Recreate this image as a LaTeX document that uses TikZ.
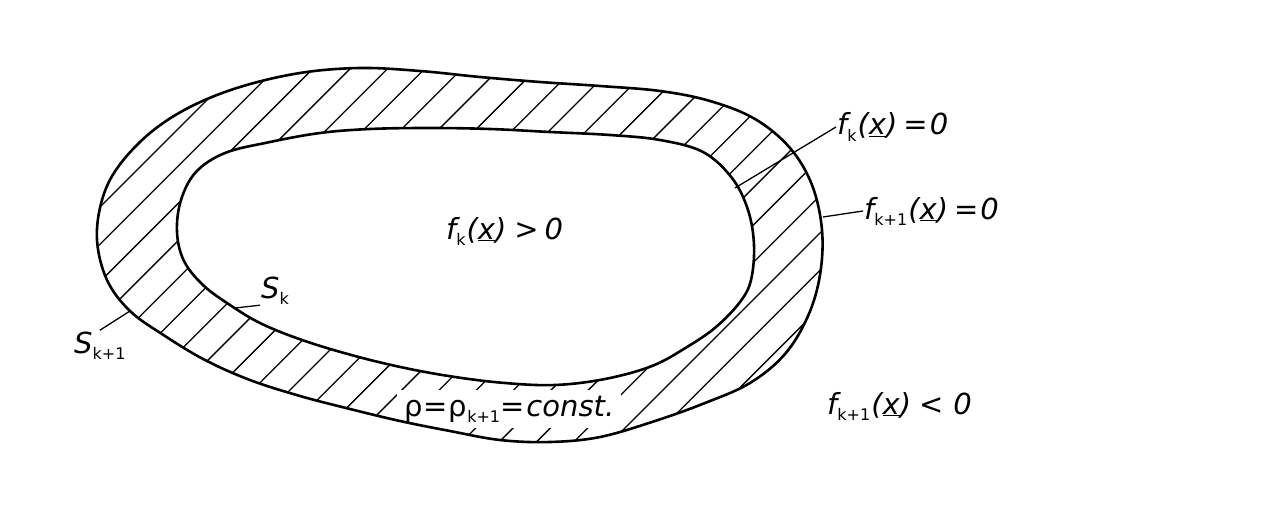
\documentclass[tikz,border=0pt]{standalone}
\usepackage{fontspec}
\setmainfont{DejaVu Sans}
\newcommand\lowsub[1]{\raisebox{-6pt}{\fontsize{16}{16}\selectfont\upshape #1}}
\newcommand\fsub[1]{{\itshape f}\lowsub{#1}\hspace{1pt}{\itshape(\underline{x})}}
\begin{document}
\begin{tikzpicture}[x=1pt,y=-1pt,
  curve/.style={line width=2.6pt,line join=round},
  hatch/.style={line width=1.3pt},
  leader/.style={line width=1.3pt},
  lbl/.style={font=\fontsize{29}{32}\selectfont,inner sep=1pt}]
\useasboundingbox (0,0) rectangle (1265,516);
\def\outerP{plot[smooth cycle,tension=0.6] coordinates {(97,240) (102,200) (118,167) (150,133) (190,107) (240,87) (300,73) (360,68) (420,71) (480,77) (540,82) (600,86) (660,91) (710,101) (755,119) (790,148) (812,185) (822,230) (820,275) (808,316) (785,354) (750,383) (705,403) (655,421) (600,437) (550,442) (500,440) (450,431) (400,421) (350,409) (300,396) (250,380) (205,360) (165,336) (130,311) (107,280)}}
\def\innerP{plot[smooth cycle,tension=0.6] coordinates {(177,232) (181,200) (196,172) (225,153) (270,142) (320,133) (370,129) (430,128) (490,129) (550,132) (610,135) (660,140) (703,152) (732,178) (748,210) (754,245) (751,280) (740,302) (716,327) (687,347) (652,366) (605,379) (555,385) (505,383) (455,377) (405,368) (355,356) (305,341) (262,324) (230,305) (203,285) (184,261)}}
% hatching
\begin{scope}
  \clip \outerP;
  \foreach \n in {-6,...,32}
    \draw[hatch] ({307+37.3*\n-600},600) -- ({307+37.3*\n+100},-100);
\end{scope}
\fill[white] \innerP;
% label in the band
\node[lbl,fill=white,inner xsep=7pt,inner ysep=6pt,anchor=base west] (rho) at (397,416)
  {\upshape ρ\hspace{1pt}=\hspace{1pt}ρ\lowsub{k+1}=\hspace{2pt}{\itshape const.}};
\draw[curve] \outerP;
\draw[curve] \innerP;
% labels
\node[lbl,anchor=base west] (inside) at (445,239) {\fsub{k}\hspace{8pt}{\itshape >}\hspace{6pt}{\itshape 0}};
\node[lbl,anchor=base west] (fk0) at (836,135) {\fsub{k}\hspace{6pt}{\itshape =}\hspace{2pt}{\itshape 0}};
\node[lbl,anchor=base west] (fk10) at (863,219) {\fsub{k+1}\hspace{6pt}{\itshape =}\hspace{2pt}{\itshape 0}};
\node[lbl,anchor=base west] (outside) at (826,414) {\fsub{k+1}\hspace{8pt}{\itshape <}\hspace{10pt}{\itshape 0}};
\node[lbl,anchor=base west] (Sk) at (260,298) {{\itshape S}\lowsub{k}};
\node[lbl,anchor=base west] (Sk1) at (73,353) {{\itshape S}\lowsub{k+1}};
% leader end points on the curves
\coordinate (pfk) at (735,188);
\coordinate (pfk1) at (823,217);
\coordinate (pSk) at (235,308);
\coordinate (pSk1) at (130,311);
\draw[leader] (fk0.west) -- (pfk);
\draw[leader] (fk10.west) -- (pfk1);
\draw[leader] (Sk.south west) -- (pSk);
\draw[leader] (Sk1.north) -- (pSk1);
\end{tikzpicture}
\end{document}
